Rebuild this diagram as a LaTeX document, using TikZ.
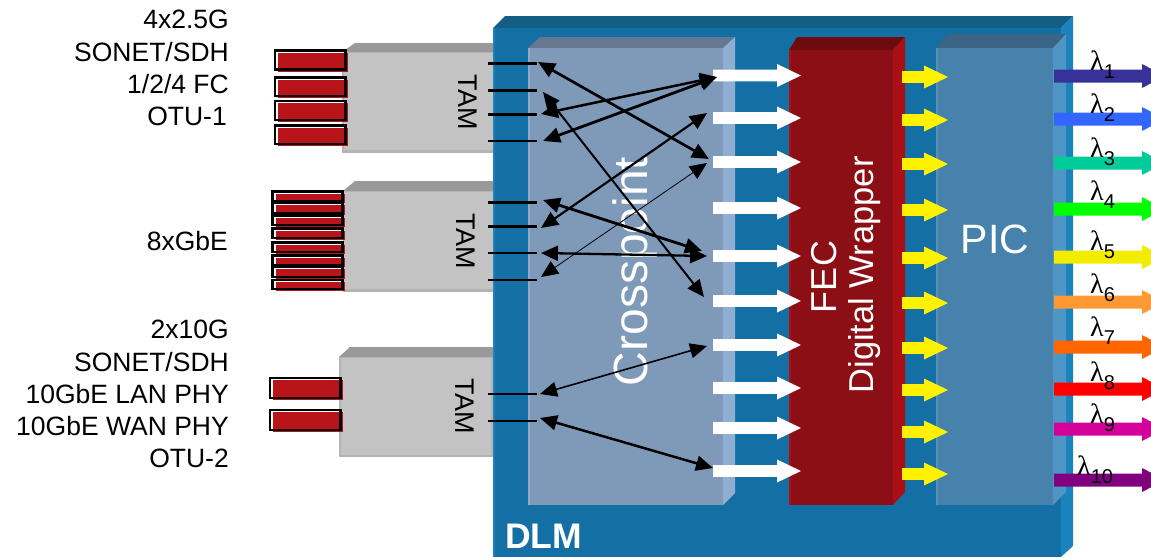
\documentclass[tikz,border=0pt]{standalone}
\usepackage{fontspec}
\setmainfont{Liberation Sans}
\newfontfamily\lamfont{Liberation Serif}
\usetikzlibrary{arrows.meta}
\definecolor{dlmF}{HTML}{1470A4}\definecolor{dlmT}{HTML}{125E84}\definecolor{dlmR}{HTML}{1A82BC}
\definecolor{xpF}{HTML}{7F99B8}\definecolor{xpT}{HTML}{66788F}\definecolor{xpR}{HTML}{8FAED2}\definecolor{xpE}{HTML}{8DA9CB}
\definecolor{fecF}{HTML}{8B0F14}\definecolor{fecT}{HTML}{6E0B0F}\definecolor{fecR}{HTML}{A81015}
\definecolor{picF}{HTML}{4682AB}\definecolor{picT}{HTML}{3C6485}\definecolor{picR}{HTML}{5096C4}\definecolor{picE}{HTML}{5790B8}
\definecolor{tamF}{HTML}{C3C3C3}\definecolor{tamT}{HTML}{999999}\definecolor{tamB}{HTML}{B4B4B4}
\definecolor{plugred}{HTML}{B8141A}
\definecolor{la1}{HTML}{373199}\definecolor{la2}{HTML}{3366FF}\definecolor{la3}{HTML}{00CC99}\definecolor{la4}{HTML}{00FF00}\definecolor{la5}{HTML}{F2EC00}
\definecolor{la6}{HTML}{FF9933}\definecolor{la7}{HTML}{FF6600}\definecolor{la8}{HTML}{FF0000}\definecolor{la9}{HTML}{D4009A}\definecolor{la10}{HTML}{800080}
\newcommand{\fsz}[1]{\fontsize{#1}{#1}\selectfont}
% colour, x start, x head, x tip, y, half shaft, half head
\newcommand{\blockarrow}[7]{\fill[#1] (#2,#5-#6) -- (#3,#5-#6) -- (#3,#5-#7) -- (#4,#5) -- (#3,#5+#7) -- (#3,#5+#6) -- (#2,#5+#6) -- cycle;}
% x0,y0,x1,y1
\newcommand{\plugbox}[4]{\fill[white] (#1,#2) rectangle (#3,#4);
 \fill[plugred] (#1+3,#2+2.4) rectangle (#3+2.2,#4+2.2);
 \draw[black,line width=2.1pt] (#1,#2) rectangle (#3,#4);}
\tikzset{
 sidelabel/.style={anchor=base east,inner sep=0pt,font=\fsz{26.5},text=black},
 tamlabel/.style={rotate=-90,inner sep=0pt,font=\fsz{27},text=black},
 whitetext/.style={inner sep=0pt,text=white},
 lamlabel/.style={anchor=base west,inner sep=0pt,text=black},
 tick/.style={black,line width=2.2pt},
 link/.style={black,{Triangle[length=17pt,width=15pt]}-{Triangle[length=17pt,width=15pt]}},
}
\begin{document}
\begin{tikzpicture}[x=1pt,y=-1pt]
\useasboundingbox (0,0) rectangle (1151,557);
\clip (0,0) rectangle (1151,557);
% TAM boxes
\fill[tamT] (342,52) -- (355,43) -- (495,43) -- (495,52) -- cycle;
\fill[tamB] (342,52) rectangle (495,153);
\fill[tamF] (344,53) rectangle (495,150);
\fill[tamT] (343,191) -- (355,181) -- (495,181) -- (495,191) -- cycle;
\fill[tamB] (343,191) rectangle (495,292);
\fill[tamF] (344,192) rectangle (495,289);
\fill[tamT] (339,357) -- (350,347) -- (495,347) -- (495,357) -- cycle;
\fill[tamB] (339,357) rectangle (493,457);
\fill[tamF] (341,358) rectangle (491,455);
% plugs
\plugbox{275}{50.5}{345.5}{69.5}
\plugbox{275}{77.5}{345.5}{96}
\plugbox{275}{101}{345.5}{120}
\plugbox{275}{125.5}{345.5}{144}
\plugbox{272.5}{191.5}{342.5}{201}
\plugbox{272.5}{203}{342.5}{213}
\plugbox{272.5}{215.5}{342.5}{225}
\plugbox{272.5}{228.5}{342.5}{238}
\plugbox{272.5}{242.5}{342.5}{252}
\plugbox{272.5}{255.5}{342.5}{265}
\plugbox{272.5}{267}{342.5}{277}
\plugbox{272.5}{280}{342.5}{289}
\plugbox{270}{378}{340.5}{398}
\plugbox{270}{410}{340.5}{430}
% DLM
\fill[dlmT] (493,28) -- (505,16) -- (1073,16) -- (1061,28) -- cycle;
\fill[dlmR] (1061,28) -- (1073,16) -- (1073,546) -- (1061,557) -- cycle;
\fill[dlmF] (493,28) rectangle (1061,557);
\fill[dlmR] (493,28) rectangle (495,557);
% Crosspoint
\fill[xpT] (528,48) -- (540,37) -- (735,37) -- (723,48) -- cycle;
\fill[xpR] (723,48) -- (735,37) -- (735,493) -- (723,505) -- cycle;
\fill[xpF] (528,48) rectangle (723,505);
\fill[xpE] (528,48) rectangle (530,505);
% FEC
\fill[fecT] (789,50) -- (797,37) -- (905,37) -- (893,50) -- cycle;
\fill[fecR] (893,50) -- (905,37) -- (905,492) -- (893,505) -- cycle;
\fill[fecF] (789,50) rectangle (893,505);
\fill[fecR] (789,50) rectangle (790.5,505);
% PIC
\fill[picT] (936,48) -- (948,34) -- (1066,34) -- (1053,48) -- cycle;
\fill[picR] (1053,48) -- (1066,34) -- (1066,492) -- (1053,505) -- cycle;
\fill[picF] (936,48) rectangle (1053,505);
\fill[picE] (936,48) rectangle (938,505);
% block texts
\node[whitetext,rotate=90,anchor=base,font=\fsz{48}] (xp) at (647,271.5) {Crosspoint};
\node[whitetext,rotate=90,anchor=base,font=\fsz{36}] (fec) at (836,277) {FEC};
\node[whitetext,rotate=90,anchor=base,font=\fsz{34.5}] (dw) at (873,275) {Digital Wrapper};
\node[whitetext,anchor=base,font=\fsz{41}] (pic) at (995,253) {PIC};
\node[whitetext,anchor=base west,font=\fsz{35.5}\bfseries] (dlm) at (505,548) {DLM};
% white arrows
\foreach \y in {75.5,118,162,208,256,301,345,388,428,471}{\blockarrow{white}{713}{777}{801}{\y}{5.8}{11.5}}
% yellow arrows
\foreach \y in {77,120,164,210,258,303,348,390,432,474}{\blockarrow{yellow}{902}{924}{948}{\y}{5.8}{11.5}}
% wavelength arrows
\foreach \y/\c in {76/la1,119/la2,163/la3,209/la4,257/la5,302/la6,347/la7,389/la8,429/la9,480/la10}{\blockarrow{\c}{1054}{1142}{1165}{\y}{6.5}{12}}
% wavelength labels
\foreach \x/\y/\n in {1090/70/1,1090/113/2,1090/157/3,1090/200/4,1090/250/5,1090/293/6,1090/336/7,1090/381/8,1090/423/9,1077/475/10}{
 \node[lamlabel] (lam\n) at (\x,\y) {{\lamfont\fsz{28}λ}\raisebox{-8pt}{\fsz{20}\n}};}
% side labels
\node[sidelabel] (t1) at (229,28) {4x2.5G};
\node[sidelabel] (t2) at (229,61) {SONET/SDH};
\node[sidelabel] (t3) at (229,93) {1/2/4 FC};
\node[sidelabel] (t4) at (227,125) {OTU-1};
\node[sidelabel] (t5) at (228,250) {8xGbE};
\node[sidelabel] (t6) at (229,338) {2x10G};
\node[sidelabel] (t7) at (229,371) {SONET/SDH};
\node[sidelabel] (t8) at (229,403) {10GbE LAN PHY};
\node[sidelabel] (t9) at (229,435) {10GbE WAN PHY};
\node[sidelabel] (t10) at (229,467) {OTU-2};
\node[tamlabel] (tam1) at (468,102) {TAM};
\node[tamlabel] (tam2) at (466,241) {TAM};
\node[tamlabel] (tam3) at (465,406) {TAM};
% tick ends
\foreach \n/\y in {a/63.5,b/90.5,c/114.5,d/141,e/202.5,f/226.5,g/253,h/280,i/394,j/421}{
 \coordinate (\n0) at (488,\y); \coordinate (\n1) at (537,\y);
 \draw[tick] (\n0) -- (\n1);}
% link ends
\coordinate (la) at (538,62);  \coordinate (ra) at (709,159);
\coordinate (lb) at (543,92);  \coordinate (rb) at (704,297);
\coordinate (lc) at (541,114); \coordinate (rc) at (717,77);
\coordinate (ld) at (543,141); \coordinate (rd) at (717,77);
\coordinate (le) at (543,200); \coordinate (re) at (702,251);
\coordinate (lf) at (541,228); \coordinate (rf) at (707,113);
\coordinate (lg) at (541,253); \coordinate (rg) at (707,256);
\coordinate (lh) at (541,277); \coordinate (rh) at (707,163);
\coordinate (li) at (540,394); \coordinate (ri) at (707,346);
\coordinate (lj) at (540,418); \coordinate (rj) at (713,468);
\draw[link,line width=2.7pt] (la) -- (ra);
\draw[link,line width=2pt] (lb) -- (rb);
\draw[link,line width=2.5pt] (lc) -- (rc);
\draw[link,line width=2.8pt] (ld) -- (rd);
\draw[link,line width=2.8pt] (le) -- (re);
\draw[link,line width=2.2pt] (lf) -- (rf);
\draw[link,line width=2.3pt] (lg) -- (rg);
\draw[link,line width=0.8pt] (lh) -- (rh);
\draw[link,line width=1.6pt] (li) -- (ri);
\draw[link,line width=2.5pt] (lj) -- (rj);
\end{tikzpicture}
\end{document}
